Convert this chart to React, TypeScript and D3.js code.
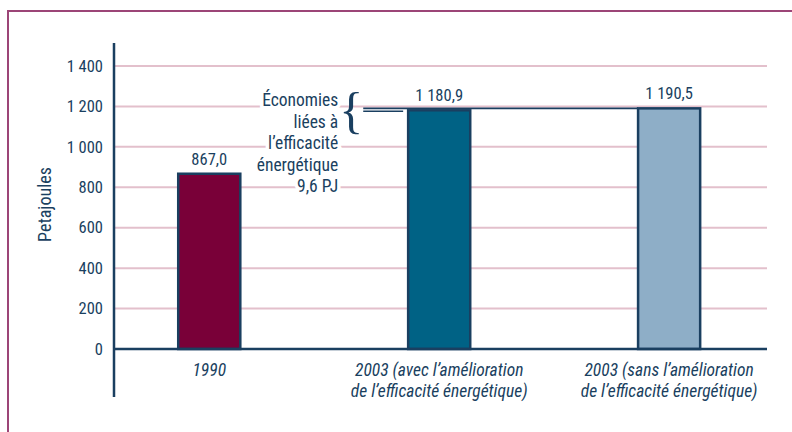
import React, { useEffect, useRef } from 'react';
import * as d3 from 'd3';

// données
const categories = ['1990', '2003 avec', '2003 sans'];
const categoryLabels = [
  ['1990'],
  ['2003 (avec l\u2019amélioration', 'de l\u2019efficacité énergétique)'],
  ['2003 (sans l\u2019amélioration', 'de l\u2019efficacité énergétique)'],
];
const values = [867.0, 1180.9, 1190.5];
const barColors = ['#790038', '#006285', '#8eaec7'];
const yTicks = [0, 200, 400, 600, 800, 1000, 1200, 1400];
const noteLines = ['Économies', 'liées à', 'l\u2019efficacité', 'énergétique', '9,6 PJ'];
const yTitle = 'Petajoules';

const W = 792;
const H = 432;
const NAVY = '#1a3f60';
const FONT = '"Liberation Sans Narrow", "Roboto Condensed", "DejaVu Sans Condensed", Roboto, sans-serif';

const App: React.FC = () => {
  const svgRef = useRef<SVGSVGElement>(null);

  useEffect(() => {
    if (!svgRef.current) return;
    const svg = d3.select(svgRef.current);
    svg.selectAll('*').remove();

    const left = 114;
    const right = 767;
    const top = 66;
    const bottom = 349;

    const fr = d3.formatLocale({ decimal: ',', thousands: ' ', grouping: [3], currency: ['', ''] });
    const fmtTick = fr.format(',.0f');
    const fmtVal = fr.format(',.1f');

    const x = d3.scaleBand<string>()
      .domain(categories)
      .range([left, right])
      .paddingInner(0.73)
      .paddingOuter(0.285)
      .align(0.49);

    const y = d3.scaleLinear().domain([0, 1400]).range([bottom, top]);

    // cadre
    svg.append('rect')
      .attr('x', 8).attr('y', 11)
      .attr('width', W).attr('height', H)
      .attr('fill', 'none')
      .attr('stroke', '#9c4577')
      .attr('stroke-width', 2);

    // grille
    svg.append('g')
      .selectAll('line')
      .data(yTicks.filter(d => d > 0))
      .join('line')
      .attr('x1', left).attr('x2', right)
      .attr('y1', d => y(d)).attr('y2', d => y(d))
      .attr('stroke', '#e3c0cc')
      .attr('stroke-width', 2);

    // note sur les économies
    const bar1Right = (x(categories[0]) || 0) + x.bandwidth();
    const bar2Left = x(categories[1]) || 0;
    const noteRight = (bar1Right + bar2Left) / 2 + 14;
    const noteTop = 106;
    svg.append('g')
      .selectAll('text')
      .data(noteLines)
      .join('text')
      .attr('x', noteRight)
      .attr('y', (_, i) => noteTop + i * 21.5)
      .attr('text-anchor', 'end')
      .attr('font-family', FONT)
      .attr('font-size', 17.5)
      .attr('fill', NAVY)
      .attr('stroke', '#fff')
      .attr('stroke-width', 7)
      .attr('paint-order', 'stroke')
      .text(d => d);

    const braceX = noteRight + 13;
    svg.append('text')
      .attr('x', braceX)
      .attr('y', (y(values[1]) + y(values[2])) / 2 + 18)
      .attr('text-anchor', 'middle')
      .attr('font-family', '"Liberation Serif", serif')
      .attr('font-size', 50)
      .attr('fill', NAVY)
      .text('{');

    const lineStart = braceX + 12;
    svg.append('line')
      .attr('x1', lineStart).attr('x2', x(categories[2]) || 0)
      .attr('y1', y(values[2])).attr('y2', y(values[2]))
      .attr('stroke', NAVY).attr('stroke-width', 1.6);
    svg.append('line')
      .attr('x1', lineStart).attr('x2', bar2Left - 5)
      .attr('y1', y(values[1]) + 1).attr('y2', y(values[1]) + 1)
      .attr('stroke', NAVY).attr('stroke-width', 1.6);

    // barres
    svg.append('g')
      .selectAll('rect')
      .data(values)
      .join('rect')
      .attr('x', (_, i) => x(categories[i]) || 0)
      .attr('y', d => y(d))
      .attr('width', x.bandwidth())
      .attr('height', d => bottom - y(d))
      .attr('fill', (_, i) => barColors[i])
      .attr('stroke', NAVY)
      .attr('stroke-width', 2.5);

    // valeurs
    svg.append('g')
      .selectAll('text')
      .data(values)
      .join('text')
      .attr('x', (_, i) => (x(categories[i]) || 0) + x.bandwidth() / 2)
      .attr('y', d => y(d) - 9)
      .attr('text-anchor', 'middle')
      .attr('font-family', FONT)
      .attr('font-size', 16.5)
      .attr('fill', NAVY)
      .text(d => fmtVal(d));

    // axe x
    svg.append('line')
      .attr('x1', left).attr('x2', right)
      .attr('y1', bottom).attr('y2', bottom)
      .attr('stroke', NAVY).attr('stroke-width', 2.5);

    // axe y
    svg.append('line')
      .attr('x1', left).attr('x2', left)
      .attr('y1', top - 23).attr('y2', bottom + 48)
      .attr('stroke', NAVY).attr('stroke-width', 2.5);

    const yAxis = svg.append('g')
      .attr('transform', `translate(${left},0)`)
      .call(d3.axisLeft(y).tickValues(yTicks).tickFormat(d => fmtTick(+d)).tickSize(0).tickPadding(11));
    yAxis.select('.domain').remove();
    yAxis.selectAll('text')
      .attr('font-family', FONT)
      .attr('font-size', 16.5)
      .attr('fill', NAVY);

    svg.append('text')
      .attr('transform', `translate(51,${(top + bottom) / 2 - 3}) rotate(-90)`)
      .attr('text-anchor', 'middle')
      .attr('font-family', FONT)
      .attr('font-size', 18)
      .attr('fill', NAVY)
      .text(yTitle);

    // étiquettes des catégories
    const cat = svg.append('g')
      .selectAll('text')
      .data(categoryLabels)
      .join('text')
      .attr('x', (_, i) => (x(categories[i]) || 0) + x.bandwidth() / 2)
      .attr('y', bottom + 27)
      .attr('text-anchor', 'middle')
      .attr('font-family', FONT)
      .attr('font-size', 17.5)
      .attr('font-style', 'italic')
      .attr('fill', NAVY);
    cat.selectAll('tspan')
      .data(d => d)
      .join('tspan')
      .attr('x', function () { return (this.parentNode as SVGTextElement).getAttribute('x'); })
      .attr('dy', (_, i) => (i === 0 ? 0 : 21))
      .text(d => d);
  }, []);

  return (
    <svg
      ref={svgRef}
      width={W}
      height={H}
      style={{ position: 'absolute', left: 0, top: 0, background: '#fff' }}
    />
  );
};

export default App;
